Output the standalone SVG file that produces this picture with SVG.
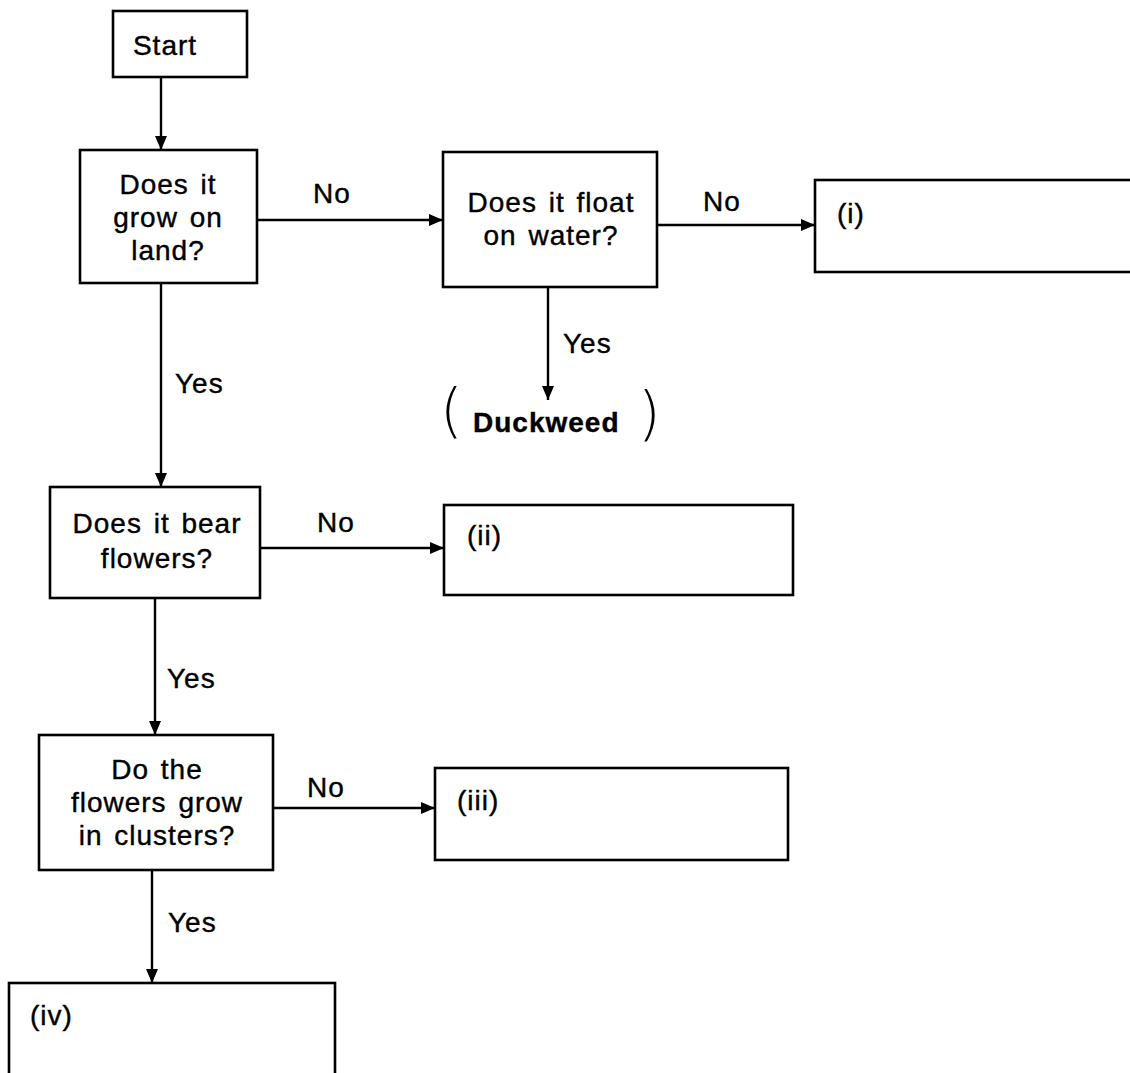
<svg xmlns="http://www.w3.org/2000/svg" width="1130" height="1073" viewBox="0 0 1130 1073">
<style>
.box{fill:#fff;stroke:#000;stroke-width:2.6}
.t{font-family:"Liberation Sans",Arial,sans-serif;font-size:28px;letter-spacing:1px;word-spacing:3px;fill:#000;stroke:#000;stroke-width:0.4}
.c{text-anchor:middle}
.b{font-weight:bold}
.conn{stroke:#000;stroke-width:2.4;fill:none;marker-end:url(#ah)}
.par{font-family:"DejaVu Sans","Liberation Sans",sans-serif;font-weight:200;font-size:58px;fill:#000}
</style>
<defs>
<marker id="ah" viewBox="0 0 14 12" refX="14" refY="6" markerWidth="14" markerHeight="12" markerUnits="userSpaceOnUse" orient="auto">
<path d="M0,0 L14,6 L0,12 Z" fill="#000"/>
</marker>
</defs>
<rect width="1130" height="1073" fill="#fff"/>
<g id="connectors">
<path class="conn" d="M161,77 V150"/>
<path class="conn" d="M257,220 H443"/>
<path class="conn" d="M657,225 H815"/>
<path class="conn" d="M548,287 V400"/>
<path class="conn" d="M161,283 V487"/>
<path class="conn" d="M260,548 H444"/>
<path class="conn" d="M155,598 V735"/>
<path class="conn" d="M273,808 H435"/>
<path class="conn" d="M152,870 V983"/>
<text class="t" x="313" y="203">No</text>
<text class="t" x="703" y="211">No</text>
<text class="t" x="317" y="532">No</text>
<text class="t" x="307" y="797">No</text>
<text class="t" x="175" y="393">Yes</text>
<text class="t" x="563" y="353">Yes</text>
<text class="t" x="167" y="688">Yes</text>
<text class="t" x="168" y="932">Yes</text>
</g>
<g id="start">
<rect class="box" x="113" y="11" width="134" height="66"/>
<text class="t c" x="165" y="55">Start</text>
</g>
<g id="grow-on-land">
<rect class="box" x="80" y="150" width="177" height="133"/>
<text class="t c" x="168" y="194">Does it</text>
<text class="t c" x="168" y="227">grow on</text>
<text class="t c" x="168" y="260">land?</text>
</g>
<g id="float-on-water">
<rect class="box" x="443" y="152" width="214" height="135"/>
<text class="t c" x="551" y="212">Does it float</text>
<text class="t c" x="551" y="245">on water?</text>
</g>
<g id="box-i">
<rect class="box" x="815" y="180" width="330" height="92"/>
<text class="t" x="837" y="223">(i)</text>
</g>
<g id="duckweed">
<text class="par" x="440" y="431">(</text>
<text class="t b" x="473" y="432">Duckweed</text>
<text class="par" x="638" y="434">)</text>
</g>
<g id="bear-flowers">
<rect class="box" x="50" y="487" width="210" height="111"/>
<text class="t c" x="157" y="533">Does it bear</text>
<text class="t c" x="157" y="568">flowers?</text>
</g>
<g id="box-ii">
<rect class="box" x="444" y="505" width="349" height="90"/>
<text class="t" x="467" y="545">(ii)</text>
</g>
<g id="clusters">
<rect class="box" x="39" y="735" width="234" height="135"/>
<text class="t c" x="157" y="779">Do the</text>
<text class="t c" x="157" y="812">flowers grow</text>
<text class="t c" x="157" y="845">in clusters?</text>
</g>
<g id="box-iii">
<rect class="box" x="435" y="768" width="353" height="92"/>
<text class="t" x="457" y="810">(iii)</text>
</g>
<g id="box-iv">
<rect class="box" x="9" y="983" width="326" height="110"/>
<text class="t" x="30" y="1025">(iv)</text>
</g>
</svg>
